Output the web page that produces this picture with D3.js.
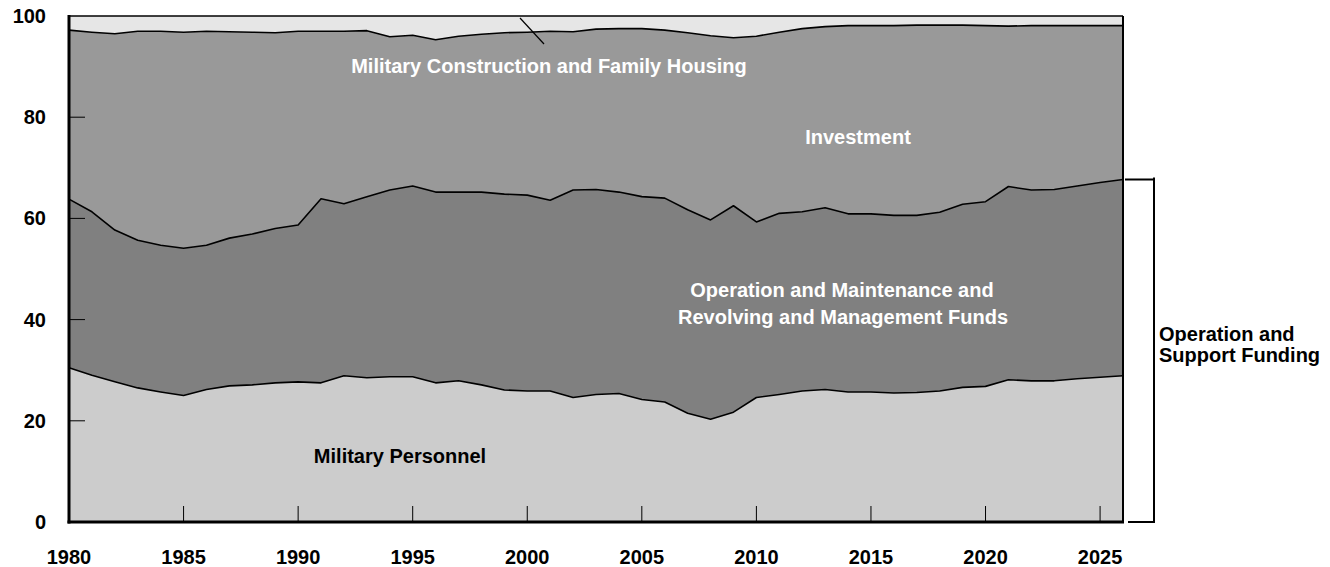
<!DOCTYPE html>
<html>
<head>
<meta charset="utf-8">
<script src="https://cdn.jsdelivr.net/npm/d3@7/dist/d3.min.js"></script>
<style>
  html, body { margin: 0; padding: 0; background: #fff; }
  svg { display: block; }
  text { font-family: "Liberation Sans", Arial, sans-serif; font-weight: bold; }
</style>
</head>
<body>
<svg id="chart" width="1330" height="567"></svg>
<script>
const years = d3.range(1980, 2027);
const militaryPersonnel = [30.5,29.0,27.7,26.5,25.7,25.0,26.2,26.9,27.1,27.5,
  27.7,27.5,28.9,28.5,28.7,28.7,27.5,27.9,27.1,26.1,
  25.9,25.9,24.6,25.2,25.4,24.2,23.7,21.5,20.3,21.7,
  24.6,25.2,25.9,26.2,25.7,25.7,25.5,25.6,25.9,26.6,
  26.8,28.1,27.9,27.9,28.3,28.6,28.9];
const operationMaintenance = [33.3,32.3,30.0,29.2,29.0,29.1,28.5,29.2,29.8,30.5,
  31.0,36.4,34.0,35.8,36.9,37.7,37.7,37.3,38.1,38.7,
  38.7,37.7,41.0,40.5,39.8,40.1,40.3,40.2,39.4,40.8,
  34.7,35.8,35.4,35.9,35.2,35.2,35.1,35.0,35.3,36.2,
  36.5,38.2,37.7,37.8,38.1,38.5,38.8];
const investment = [33.4,35.5,38.8,41.3,42.3,42.7,42.3,40.8,39.9,38.7,
  38.3,33.1,34.1,32.8,30.3,29.8,30.1,30.8,31.2,31.9,
  32.2,33.4,31.3,31.7,32.3,33.2,33.2,35.0,36.4,33.2,
  36.7,35.8,36.2,35.8,37.2,37.2,37.5,37.6,37.0,35.4,
  34.8,31.7,32.5,32.4,31.7,31.0,30.4];
const militaryConstruction = [2.8,3.2,3.5,3.0,3.0,3.2,3.0,3.1,3.2,3.3,
  3.0,3.0,3.0,2.9,4.1,3.8,4.7,4.0,3.6,3.3,
  3.2,3.0,3.1,2.6,2.5,2.5,2.8,3.3,3.9,4.3,
  4.0,3.2,2.5,2.1,1.9,1.9,1.9,1.8,1.8,1.8,
  1.9,2.0,1.9,1.9,1.9,1.9,1.9];
const xTicks = [1980,1985,1990,1995,2000,2005,2010,2015,2020,2025];
const yTicks = [0,20,40,60,80,100];
const seriesKeys = ["milpers","om","inv","milcon"];
const seriesColors = {milpers:"#cccccc", om:"#808080", inv:"#999999", milcon:"#e6e6e6"};

const rows = years.map((y,i) => ({year:y, milpers:militaryPersonnel[i], om:operationMaintenance[i], inv:investment[i], milcon:militaryConstruction[i]}));

const svg = d3.select("#chart");
const L = 69, R = 1123, T = 16, B = 522;
const x = d3.scaleLinear().domain([1980, 2026]).range([L, R]);
const y = d3.scaleLinear().domain([0, 100]).range([B, T]);

const stacked = d3.stack().keys(seriesKeys)(rows);

const area = d3.area().x(d => x(d.data.year)).y0(d => y(d[0])).y1(d => y(d[1]));
svg.append("g").selectAll("path").data(stacked).join("path")
  .attr("d", area).attr("fill", d => seriesColors[d.key]);
// top fill to 100 for last layer
const line = d3.line().x(d => x(d.data.year)).y(d => y(d[1]));
svg.append("g").selectAll("path").data(stacked.slice(0,3)).join("path")
  .attr("d", line).attr("fill","none").attr("stroke","#000").attr("stroke-width",1.6)
  .attr("stroke-linejoin","round");

// ticks inside
svg.append("g").selectAll("line").data(xTicks.filter(t => t>1980)).join("line")
  .attr("x1", d => x(d)).attr("x2", d => x(d)).attr("y1", B).attr("y2", B-16)
  .attr("stroke","#000").attr("stroke-width",1);
svg.append("g").selectAll("line").data(yTicks.filter(t => t>0 && t<100)).join("line")
  .attr("x1", L).attr("x2", L+16).attr("y1", d => y(d)).attr("y2", d => y(d))
  .attr("stroke","#000").attr("stroke-width",1);

// frame
svg.append("line").attr("x1",L).attr("x2",R).attr("y1",T).attr("y2",T).attr("stroke","#000").attr("stroke-width",1.5);
svg.append("line").attr("x1",R).attr("x2",R).attr("y1",T).attr("y2",B).attr("stroke","#000").attr("stroke-width",2);
svg.append("line").attr("x1",L).attr("x2",L).attr("y1",T-1).attr("y2",B+1.5).attr("stroke","#000").attr("stroke-width",3);
svg.append("line").attr("x1",L-1.5).attr("x2",R+1).attr("y1",B).attr("y2",B).attr("stroke","#000").attr("stroke-width",3);

// axis labels
svg.append("g").selectAll("text").data(yTicks).join("text")
  .attr("x", 46).attr("y", d => y(d)).attr("text-anchor","end").attr("dominant-baseline","central")
  .attr("font-size",20).attr("fill","#000").text(d => d);
svg.append("g").selectAll("text").data(xTicks).join("text")
  .attr("x", d => x(d)).attr("y", 557).attr("text-anchor","middle").attr("dominant-baseline","central")
  .attr("font-size",20).attr("fill","#000").text(d => d);

// labels
function label(txt, cx, cy, fill) {
  svg.append("text").attr("x",cx).attr("y",cy).attr("text-anchor","middle")
    .attr("dominant-baseline","central").attr("font-size",20).attr("fill",fill).text(txt);
}
label("Military Construction and Family Housing", 549, 66, "#fff");
label("Investment", 858, 137, "#fff");
label("Operation and Maintenance and", 842, 290, "#fff");
label("Revolving and Management Funds", 843, 317, "#fff");
label("Military Personnel", 400, 456, "#000");

// leader line
svg.append("line").attr("x1",520).attr("y1",18).attr("x2",544).attr("y2",44).attr("stroke","#000").attr("stroke-width",1.2);

// bracket
const last = stacked[1][stacked[1].length-1][1];
const bx = 1154;
svg.append("path").attr("d", `M${R+2},${y(last)}H${bx}V${B}H${R+5}`)
  .attr("fill","none").attr("stroke","#000").attr("stroke-width",2);
svg.append("line").attr("x1",bx).attr("x2",bx).attr("y1",y(last)-2).attr("y2",y(last)+2).attr("stroke","#000").attr("stroke-width",2);
svg.append("text").attr("x",1159).attr("y",334).attr("dominant-baseline","central").attr("font-size",20).attr("fill","#000").text("Operation and");
svg.append("text").attr("x",1159).attr("y",355).attr("dominant-baseline","central").attr("font-size",20).attr("fill","#000").text("Support Funding");
</script>
</body>
</html>
